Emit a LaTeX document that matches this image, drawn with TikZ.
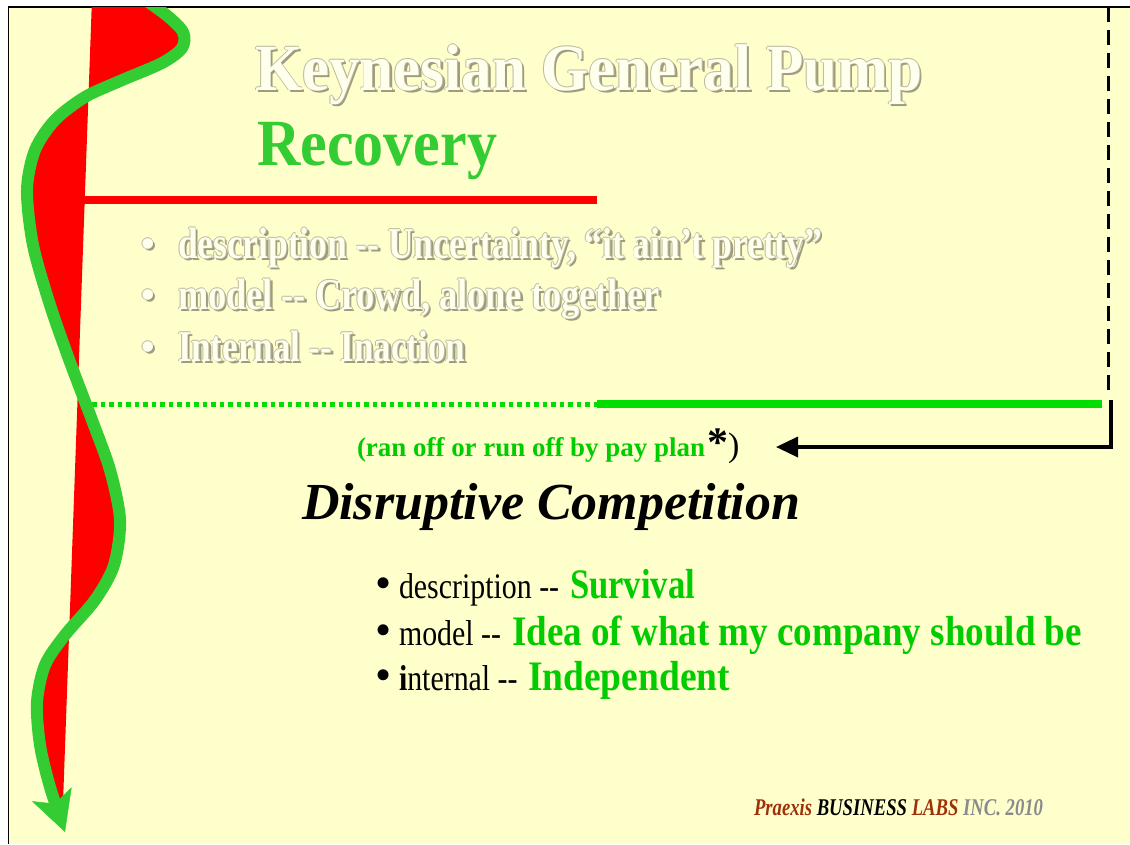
\documentclass[tikz,border=0pt]{standalone}
\usepackage{fontspec}
\setmainfont{Liberation Serif}
\usepackage{graphicx}
\usetikzlibrary{arrows.meta}
\definecolor{bg}{HTML}{FFFFCC}
\definecolor{wavegreen}{HTML}{33CC33}
\definecolor{brightgreen}{HTML}{00DD00}
\definecolor{txtgreen}{HTML}{00CC00}
\definecolor{embshadow}{HTML}{9E9B7E}
\definecolor{embedge}{HTML}{BDBA9C}
\definecolor{embfill}{HTML}{FFFFEE}
\definecolor{praexred}{HTML}{A0300A}
\definecolor{incgray}{HTML}{8A8A8A}
\newcommand\fitw[2]{\resizebox{#1}{\height}{#2}}
\newcommand\cnd[1]{\scalebox{0.83}[1]{#1}}
\newcommand\dd{-\kern0pt-}
\tikzset{
  txt/.style={anchor=base west, inner sep=0pt, outer sep=0pt},
  greenword/.style={txt, text=txtgreen, font=\fontsize{42}{46}\selectfont\bfseries},
  blackword/.style={txt, text=black, font=\fontsize{36}{40}\selectfont},
  bulletmark/.style={txt, text=black, font=\fontsize{46}{48}\selectfont},
}
\newcommand\emb[4]{%
  \node[txt, text=embshadow] (#1-s) at (#2+2.5,#3+2.5) {#4};
  \node[txt, text=embedge] (#1-l) at (#2-0.9,#3) {#4};
  \node[txt, text=embedge] (#1-r) at (#2+0.9,#3) {#4};
  \node[txt, text=embedge] (#1-u) at (#2,#3-0.9) {#4};
  \node[txt, text=embedge] (#1-d) at (#2,#3+0.9) {#4};
  \node[txt, text=embfill] (#1) at (#2,#3) {#4};
}
\begin{document}
\begin{tikzpicture}[x=1pt,y=-1pt]
\useasboundingbox (0,0) rectangle (1130,844);
\fill[white] (0,0) rectangle (1130,844);
\fill[bg] (8.5,7) rectangle (1130,844);
\draw[line width=1.5] (8.5,844) -- (8.5,7) -- (1130,7);

% wave (red fill + green arrow)
\begin{scope}
\clip (9.2,7.7) rectangle (1130,844);
\fill[red] plot[smooth] coordinates {(128,-12) (165,14) (183,32) (182,48) (162,63) (120,81) (85,97) (55,120) (35,150) (27,190) (33,245) (50,305) (70,362) (92,420) (110,470) (120,520) (114,565) (95,600) (65,635) (45,665) (37,702) (40,745) (50,785) (63,803)} -- (92.3,-10) -- cycle;
\draw[red, line width=8] (84,200) -- (597,200);
\draw[brightgreen, line width=5, dash pattern=on 4.5 off 4] (92,404) -- (597,404);
\draw[brightgreen, line width=8] (597,404) -- (1102,404);
\draw[wavegreen, line width=12, -{Stealth[length=40pt,width=42pt,inset=10pt,line width=0.5pt]}] plot[smooth] coordinates {(128,-12) (165,14) (183,32) (182,48) (162,63) (120,81) (85,97) (55,120) (35,150) (27,190) (33,245) (50,305) (70,362) (92,420) (110,470) (120,520) (114,565) (95,600) (65,635) (45,665) (37,702) (40,745) (50,787) (65,832)};
\end{scope}

% title
\emb{title}{255}{90}{\fontsize{66}{70}\selectfont\bfseries\fitw{667pt}{Keynesian General Pump}}
\node[txt, text=wavegreen, font=\fontsize{66}{70}\selectfont\bfseries] (recovery) at (257,165) {\fitw{240pt}{Recovery}};

% gray bullets
\emb{gb1}{140}{258}{\fontsize{44}{48}\selectfont •}
\emb{gb2}{140}{309}{\fontsize{44}{48}\selectfont •}
\emb{gb3}{140}{361}{\fontsize{44}{48}\selectfont •}
\emb{gl1}{178}{258}{\fontsize{44}{48}\selectfont\bfseries\fitw{644pt}{description \dd{} Uncertainty, “it ain’t pretty”}}
\emb{gl2}{178}{309}{\fontsize{44}{48}\selectfont\bfseries\fitw{482pt}{model \dd{} Crowd, alone together}}
\emb{gl3}{178}{361}{\fontsize{44}{48}\selectfont\bfseries\fitw{287pt}{Internal \dd{} Inaction}}

% ran off note and arrow
\node[txt, font=\fontsize{27}{30}\selectfont] (ranoff) at (357,456) {\textcolor{txtgreen}{\bfseries\fitw{348pt}{(ran off or run off by pay plan}}\hspace{2pt}{\fontsize{42}{40}\selectfont\bfseries *}{\fontsize{34}{36}\selectfont )}};
\coordinate (dashtop) at (1108,7);
\coordinate (dashbot) at (1108,394);
\draw[line width=3, dash pattern=on 15 off 8] (dashtop) -- (dashbot);
\coordinate (bendstart) at (1111,400);
\coordinate (arrowtip) at (776,447);
\draw[line width=3.5, -{Triangle[length=22pt,width=20pt]}] (bendstart) |- (arrowtip);

% disruptive competition
\node[txt, font=\fontsize{52}{56}\selectfont\bfseries\itshape] (disrupt) at (302,519) {\fitw{498pt}{Disruptive Competition}};

% bottom bullets
\node[bulletmark] (bb1) at (375,598) {•};
\node[blackword] (bt1) at (399,598) {\cnd{description \dd}};
\node[greenword] (bg1) at (570,598) {\fitw{125pt}{Survival}};
\node[bulletmark] (bb2) at (375,645) {•};
\node[blackword] (bt2) at (399,645) {\cnd{model \dd}};
\node[greenword] (bg2) at (512,645) {\fitw{570pt}{Idea of what my company should be}};
\node[bulletmark] (bb3) at (375,690) {•};
\node[blackword] (bt3) at (399,690) {\cnd{\textbf{i}nternal \dd}};
\node[greenword] (bg3) at (528,690) {\fitw{202pt}{Independent}};

% footer
\node[txt, font=\fontsize{24}{26}\selectfont\bfseries\itshape] (footer) at (754,815) {\fitw{289pt}{\textcolor{praexred}{Praexis} BUSINESS \textcolor{praexred}{LABS} \textcolor{incgray}{INC. 2010}}};
\end{tikzpicture}
\end{document}
